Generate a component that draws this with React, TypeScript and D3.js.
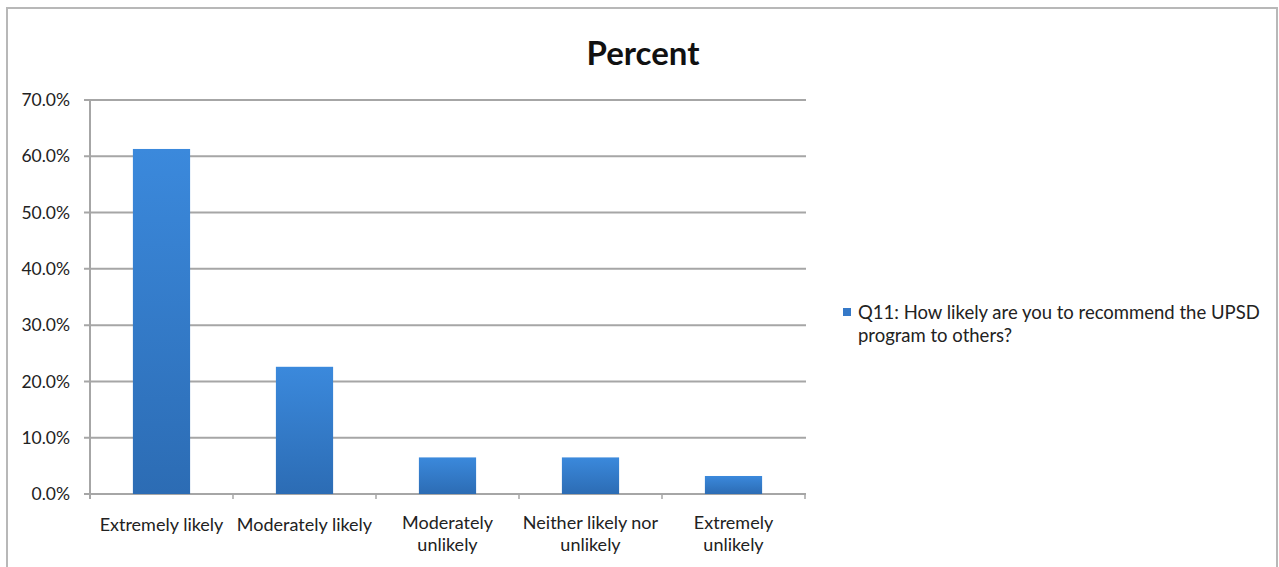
import React from "react";
import * as d3 from "d3";

const categories = [
  "Extremely likely",
  "Moderately likely",
  "Moderately unlikely",
  "Neither likely nor unlikely",
  "Extremely unlikely",
];
const categoryLines = [
  ["Extremely likely"],
  ["Moderately likely"],
  ["Moderately", "unlikely"],
  ["Neither likely nor", "unlikely"],
  ["Extremely", "unlikely"],
];
const percents = [61.3, 22.6, 6.5, 6.5, 3.2];
const yTicks = [0, 10, 20, 30, 40, 50, 60, 70];
const title = "Percent";
const legendLines = ["Q11: How likely are you to recommend the UPSD", "program to others?"];

const W = 1279;
const H = 567;
const FONT = "Lato, 'Open Sans', sans-serif";

export default function App() {
  const x = d3.scaleBand<string>().domain(categories).range([90, 805]).paddingInner(0).paddingOuter(0);
  const y = d3.scaleLinear().domain([0, 70]).range([494, 100]);
  const bw = x.bandwidth();
  const barW = bw * 0.4;

  return (
    <svg width={W} height={H} style={{ position: "absolute", left: 0, top: 0, display: "block" }}
      fontFamily={FONT}>
      <defs>
        <linearGradient id="barGrad" x1="0" y1="0" x2="0" y2="1">
          <stop offset="0%" stopColor="#3b89dc" />
          <stop offset="100%" stopColor="#2c6cb4" />
        </linearGradient>
      </defs>
      <rect x={0} y={0} width={W} height={H} fill="#ffffff" />
      <rect x={7} y={8} width={1270} height={620} fill="#ffffff" stroke="#b8b8b8" strokeWidth={2} />

      <text x={643} y={65} textAnchor="middle" fontSize={33} fontWeight="bold" fill="#111">{title}</text>

      {yTicks.map((t) => (
        <g key={t}>
          <line x1={84} x2={806} y1={y(t)} y2={y(t)} stroke="#a6a6a6" strokeWidth={2} />
          <text x={70} y={y(t)} dy="0.35em" textAnchor="end" fontSize={17.5} fill="#222">
            {d3.format(".1f")(t) + "%"}
          </text>
        </g>
      ))}
      <line x1={90} x2={90} y1={y(70)} y2={y(0) + 5} stroke="#a6a6a6" strokeWidth={2} />
      {categories.map((c, i) => (
        <line key={"t" + i} x1={(x(c) as number) + bw} x2={(x(c) as number) + bw} y1={y(0)} y2={y(0) + 5}
          stroke="#a6a6a6" strokeWidth={1.5} />
      ))}

      {categories.map((c, i) => (
        <rect key={c} x={(x(c) as number) + (bw - barW) / 2} y={y(percents[i])} width={barW}
          height={y(0) - y(percents[i])} fill="url(#barGrad)" />
      ))}

      {categories.map((c, i) => {
        const cx = (x(c) as number) + bw / 2;
        const lines = categoryLines[i];
        return (
          <g key={"l" + i}>
            {lines.map((ln, j) => (
              <text key={j} x={cx} y={lines.length > 1 ? 523 + j * 22 : 525} dy="0.35em"
                textAnchor="middle" fontSize={18} fill="#222">{ln}</text>
            ))}
          </g>
        );
      })}

      <rect x={843} y={308} width={8} height={8} fill="#3579c8" />
      {legendLines.map((ln, j) => (
        <text key={j} x={858} y={313 + j * 23} dy="0.35em" fontSize={18.5} fill="#222">{ln}</text>
      ))}
    </svg>
  );
}
